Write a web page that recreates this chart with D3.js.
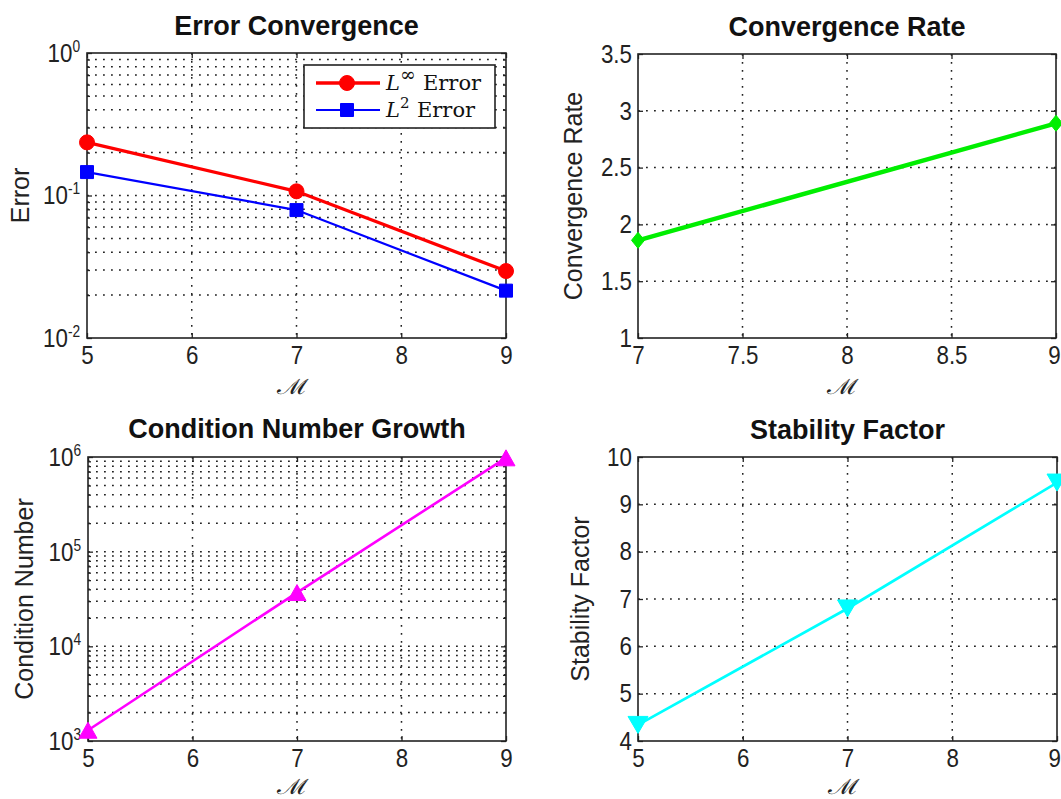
<!DOCTYPE html>
<html>
<head>
<meta charset="utf-8">
<script src="https://cdnjs.cloudflare.com/ajax/libs/d3/7.8.5/d3.min.js"></script>
<style>
body{margin:0;background:#fff;}
.ticklab{font-family:"Liberation Sans",Arial,sans-serif;font-size:26px;fill:#222;}
.title{font-family:"Liberation Sans",Arial,sans-serif;font-size:27px;font-weight:bold;fill:#111;}
.ylab{font-family:"Liberation Sans",Arial,sans-serif;font-size:25px;fill:#222;}
.xlab{font-family:"DejaVu Serif",serif;font-size:21px;fill:#222;}
.leg{font-family:"DejaVu Serif","Liberation Serif",serif;font-size:21px;fill:#111;}
</style>
</head>
<body>
<svg id="Vis" width="1061" height="799"></svg>
<script>
// values
var mValues = [5, 7, 9];
var errorLinf = [0.236, 0.107, 0.0295];
var errorL2 = [0.146, 0.079, 0.0215];
var rateM = [7, 9];
var rateValues = [1.86, 2.89];
var conditionValues = [1300, 37000, 980000];
var stabilityValues = [4.34, 6.8, 9.46];

var mTicks = [5, 6, 7, 8, 9];
var rateTicksX = [7, 7.5, 8, 8.5, 9];
var rateTicksY = [1, 1.5, 2, 2.5, 3, 3.5];
var stabilityTicks = [4, 5, 6, 7, 8, 9, 10];
var errorDecades = [-2, -1, 0];
var conditionDecades = [3, 4, 5, 6];

var svg = d3.select("#Vis");
var svgWidth = Number(svg.attr("width"));
var dotted = "1.8,6.2";
var narrow = "scale(0.86,1)";

function markerPath(shape, w, h){
  var a = w/2, b = h/2;
  if(shape == "square") return "M"+(-a)+","+(-b)+"H"+a+"V"+b+"H"+(-a)+"Z";
  if(shape == "diamond") return "M0,"+(-b)+"L"+a+",0L0,"+b+"L"+(-a)+",0Z";
  if(shape == "up") return "M0,"+(-b)+"L"+a+","+b+"L"+(-a)+","+b+"Z";
  if(shape == "down") return "M0,"+b+"L"+a+","+(-b)+"L"+(-a)+","+(-b)+"Z";
  return d3.symbol().type(d3.symbolCircle).size(Math.PI*a*a)();
}

function minorsOf(decades){
  var out = [];
  for(var i=0;i<decades.length-1;i++)
  {
    for(var k=2;k<=9;k++) out.push(k*Math.pow(10, decades[i]));
  }
  return out;
}

function drawPanel(p){
  var w = p.right - p.left, h = p.bottom - p.top;
  var g = svg.append("g").attr("transform","translate("+p.left+","+p.top+")");

  var x = d3.scaleLinear().domain([p.xTicks[0], p.xTicks[p.xTicks.length-1]]).range([0,w]);
  var y;
  var yMajor, yMinor = [];
  if(p.decades)
  {
    y = d3.scaleLog().domain([Math.pow(10,p.decades[0]), Math.pow(10,p.decades[p.decades.length-1])]).range([h,0]);
    yMajor = p.decades.map(function(e){ return Math.pow(10,e); });
    yMinor = minorsOf(p.decades);
  }
  else
  {
    y = d3.scaleLinear().domain([p.yTicks[0], p.yTicks[p.yTicks.length-1]]).range([h,0]);
    yMajor = p.yTicks;
  }

  // dotted grid
  g.selectAll(".vgrid").data(p.xTicks.slice(1,-1)).enter().append("line")
   .attr("x1",function(d){return x(d);}).attr("x2",function(d){return x(d);})
   .attr("y1",0).attr("y2",h)
   .attr("stroke","#222").attr("stroke-width",1.5).attr("stroke-dasharray",dotted);
  g.selectAll(".hgrid").data(yMajor.slice(1,-1).concat(yMinor)).enter().append("line")
   .attr("y1",function(d){return y(d);}).attr("y2",function(d){return y(d);})
   .attr("x1",0).attr("x2",w)
   .attr("stroke","#222").attr("stroke-width",1.5).attr("stroke-dasharray",dotted);

  // ticks on all four sides, pointing inward
  var bottom = g.append("g").attr("transform","translate(0,"+h+")")
    .call(d3.axisBottom(x).tickValues(p.xTicks).tickSize(-5).tickSizeOuter(0).tickPadding(8).tickFormat(d3.format("")));
  g.append("g").call(d3.axisTop(x).tickValues(p.xTicks).tickSize(-5).tickSizeOuter(0).tickFormat(""));
  var left = g.append("g")
    .call(d3.axisLeft(y).tickValues(yMajor).tickSize(-5).tickSizeOuter(0).tickPadding(7)
      .tickFormat(p.decades ? function(){return "";} : d3.format("")));
  g.append("g").attr("transform","translate("+w+",0)")
    .call(d3.axisRight(y).tickValues(yMajor).tickSize(-5).tickSizeOuter(0).tickFormat(function(){return "";}));
  if(p.decades)
  {
    g.append("g").call(d3.axisLeft(y).tickValues(yMinor).tickSize(-3).tickSizeOuter(0).tickFormat(function(){return "";}));
    g.append("g").attr("transform","translate("+w+",0)")
      .call(d3.axisRight(y).tickValues(yMinor).tickSize(-3).tickSizeOuter(0).tickFormat(function(){return "";}));
  }
  g.selectAll(".domain").remove();
  g.selectAll(".tick line").attr("stroke","#222").attr("stroke-width",1.3);
  g.selectAll("g").attr("font-size",null).attr("font-family",null);
  bottom.selectAll("text").attr("class","ticklab").attr("transform",narrow);
  left.selectAll("text").attr("class","ticklab").attr("transform",narrow);

  // the last x label sits on the page edge in the right column
  bottom.selectAll("text").filter(function(d){ return p.left + x(d) + 7 > svgWidth; })
    .attr("text-anchor","end").attr("x",svgWidth - p.left - x(p.xTicks[p.xTicks.length-1]));

  if(p.decades)
  {
    var lab = g.selectAll(".loglab").data(p.decades).enter().append("text")
      .attr("class","ticklab")
      .attr("text-anchor","end")
      .attr("transform",narrow)
      .attr("x",-8)
      .attr("y",function(d){ return y(Math.pow(10,d)) + 9; });
    lab.append("tspan").text("10");
    lab.append("tspan").attr("dy",-10).attr("font-size","16px").text(function(d){return d;});
  }

  g.append("rect").attr("width",w).attr("height",h)
   .attr("fill","none").attr("stroke","#222").attr("stroke-width",1.6);

  // series
  var line = d3.line().x(function(d){return x(d[0]);}).y(function(d){return y(d[1]);});
  p.series.forEach(function(s){
    var pts = s.xs.map(function(v,i){ return [v, s.ys[i]]; });
    g.append("path").datum(pts).attr("d",line)
     .attr("fill","none").attr("stroke",s.color).attr("stroke-width",s.width);
    g.selectAll(".mk").data(pts).enter().append("path")
     .attr("transform",function(d){ return "translate("+x(d[0])+","+y(d[1])+")"; })
     .attr("d",markerPath(s.shape, s.mw, s.mh))
     .attr("fill",s.color).attr("stroke",s.color).attr("stroke-width",1);
  });

  g.append("text").attr("class","title").attr("text-anchor","middle")
   .attr("x",w/2).attr("y",p.titleY - p.top).text(p.title);
  g.append("text").attr("class","ylab").attr("text-anchor","middle")
   .attr("transform","translate("+(p.ylabX - p.left)+","+(h/2)+") rotate(-90)").text(p.ylabel);
  g.append("text").attr("class","xlab").attr("text-anchor","middle")
   .attr("transform","translate("+(w/2 - 4)+","+(p.xlabY - p.top)+") scale(1.3,1)").text("\u2133");

  return {g:g, x:x, y:y};
}

drawPanel({
  left:87, top:53, right:506, bottom:338, titleY:35, ylabX:29, xlabY:394,
  xTicks:mTicks, decades:errorDecades,
  title:"Error Convergence", ylabel:"Error",
  series:[
    {xs:mValues, ys:errorLinf, color:"#ff0000", width:3.3, shape:"circle", mw:15, mh:15},
    {xs:mValues, ys:errorL2, color:"#0000ff", width:2.2, shape:"square", mw:13, mh:13}
  ]
});

drawPanel({
  left:638, top:54, right:1056, bottom:338, titleY:36, ylabX:582, xlabY:394,
  xTicks:rateTicksX, yTicks:rateTicksY,
  title:"Convergence Rate", ylabel:"Convergence Rate",
  series:[
    {xs:rateM, ys:rateValues, color:"#00ee00", width:4.4, shape:"diamond", mw:13, mh:16}
  ]
});

drawPanel({
  left:88, top:457, right:506, bottom:741, titleY:438, ylabX:33, xlabY:793.5,
  xTicks:mTicks, decades:conditionDecades,
  title:"Condition Number Growth", ylabel:"Condition Number",
  series:[
    {xs:mValues, ys:conditionValues, color:"#ff00ff", width:2.6, shape:"up", mw:18, mh:16}
  ]
});

drawPanel({
  left:638, top:457, right:1057, bottom:741, titleY:439, ylabX:589, xlabY:793.5,
  xTicks:mTicks, yTicks:stabilityTicks,
  title:"Stability Factor", ylabel:"Stability Factor",
  series:[
    {xs:mValues, ys:stabilityValues, color:"#00ffff", width:2.7, shape:"down", mw:20, mh:17}
  ]
});

// legend of the first panel
var legend = svg.append("g");
legend.append("rect").attr("x",304).attr("y",65).attr("width",191).attr("height",63)
  .attr("fill","#fff").attr("stroke","#222").attr("stroke-width",1.6);
var legItems = [
  {color:"#ff0000", width:3.3, shape:"circle", mw:15, mh:15, sup:"\u221e", supSize:19, y:83, ex:423},
  {color:"#0000ff", width:2.2, shape:"square", mw:13, mh:13, sup:"2", supSize:15, y:110, ex:417}
];
legItems.forEach(function(it){
  legend.append("line").attr("x1",316).attr("x2",380).attr("y1",it.y).attr("y2",it.y)
    .attr("stroke",it.color).attr("stroke-width",it.width);
  legend.append("path").attr("transform","translate(347,"+it.y+")")
    .attr("d",markerPath(it.shape,it.mw,it.mh)).attr("fill",it.color).attr("stroke",it.color);
  var t = legend.append("text").attr("class","leg").attr("x",386).attr("y",it.y+7);
  t.append("tspan").attr("font-style","italic").text("L");
  t.append("tspan").attr("dy",-9).attr("font-size",it.supSize+"px").text(it.sup);
  t.append("tspan").attr("x",it.ex).attr("y",it.y+7).text("Error");
});
</script>
</body>
</html>
